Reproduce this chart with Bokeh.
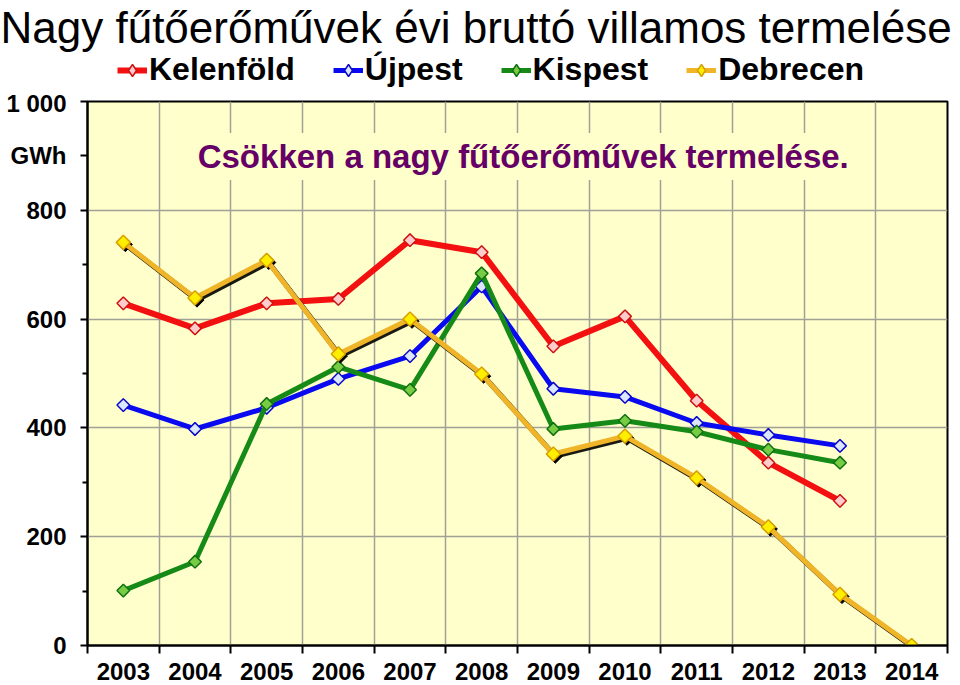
from bokeh.plotting import figure
from bokeh.layouts import column
from bokeh.models import (Range1d, FixedTicker, Legend, LegendItem, Label, ColumnDataSource)
from bokeh.transform import dodge
from bokeh.embed import file_html
from bokeh.resources import INLINE
import numpy as np

years = [2003, 2004, 2005, 2006, 2007, 2008, 2009, 2010, 2011, 2012, 2013, 2014]
kelenfold = [629, 583, 629, 637, 745, 723, 550, 605, 450, 336, 266]
ujpest = [442, 398, 437, 490, 532, 660, 472, 457, 409, 387, 367]
kispest = [101, 154, 444, 512, 470, 684, 398, 413, 393, 360, 336]
debrecen = [741, 639, 708, 536, 600, 499, 352, 385, 308, 218, 94, 0]

title_text = "Nagy fűtőerőművek évi bruttó villamos termelése"
note_text = "Csökken a nagy fűtőerőművek termelése."

FONT = "Liberation Sans"

series = [
    ("Kelenföld", kelenfold, "#F21010", "#FFCCCC", "#D01010", 6),
    ("Újpest", ujpest, "#0A0AF0", "#DDE6FF", "#0A0AC8", 5),
    ("Kispest", kispest, "#168A16", "#77CC44", "#117011", 5),
    ("Debrecen", debrecen, "#F0B428", "#FFEE00", "#D8A000", 5),
]

# ---------- header: title + legend ----------
h = figure(width=960, height=89, output_backend="svg", toolbar_location=None,
           x_range=Range1d(0, 1), y_range=Range1d(0, 1),
           x_axis_type=None, y_axis_type=None,
           min_border_left=87, min_border_right=13,
           min_border_top=0, min_border_bottom=0)
h.outline_line_color = None
h.grid.visible = False
h.background_fill_color = "white"
h.border_fill_color = "white"

h.title.text = title_text
h.title.text_font = FONT
h.title.text_font_size = "44px"
h.title.text_font_style = "normal"
h.title.text_color = "black"
h.title.align = "left"
h.title.offset = -87
h.title.standoff = 0

items = []
for name, vals, lc, fc, oc, lw in series:
    # legend-only renderers, kept outside the visible header range
    e = ColumnDataSource(dict(x=[-10.0, -9.0], y=[-10.0, -10.0]))
    r1 = h.line("x", "y", source=e, line_color=lc, line_width=lw)
    r2 = h.scatter("x", "y", source=e, marker="diamond", size=15,
                   fill_color=fc, line_color=oc, line_width=1.5)
    items.append(LegendItem(label=name, renderers=[r1, r2]))

legend = Legend(items=items, orientation="horizontal", location=(30, 1),
                label_text_font=FONT, label_text_font_size="32px",
                label_text_font_style="bold", label_text_color="black",
                glyph_width=30, glyph_height=30, label_standoff=2, spacing=38,
                padding=0, margin=0, border_line_color=None,
                background_fill_alpha=0)
h.add_layout(legend)

# ---------- main chart ----------
p = figure(frame_width=860, frame_height=544, output_backend="svg", toolbar_location=None,
           x_range=Range1d(2002.5, 2014.5), y_range=Range1d(0, 1000),
           min_border_left=87, min_border_right=13, min_border_bottom=40,
           min_border_top=12)

p.background_fill_color = "#FFFFCC"
p.border_fill_color = "white"
p.outline_line_color = "black"
p.outline_line_width = 2

bounds = [y + 0.5 for y in years[:-1]]
p.xaxis.ticker = FixedTicker(ticks=years, minor_ticks=[2002.5] + bounds + [2014.5])
p.xaxis.major_label_overrides = {y: str(y) for y in years}
p.xaxis.major_tick_line_color = None
p.xaxis.minor_tick_in = 0
p.xaxis.minor_tick_out = 8
p.xaxis.minor_tick_line_color = "black"
p.xaxis.minor_tick_line_width = 2
p.xaxis.axis_line_width = 2
p.xaxis.major_label_text_font = FONT
p.xaxis.major_label_text_font_size = "24px"
p.xaxis.major_label_text_font_style = "bold"
p.xaxis.major_label_text_color = "black"
p.xaxis.major_label_standoff = 9

p.yaxis.ticker = FixedTicker(ticks=[0, 200, 400, 600, 800, 900, 1000], minor_ticks=[100, 300, 500, 700])
p.yaxis.major_label_overrides = {0: "0", 200: "200", 400: "400", 600: "600", 800: "800",
                                 900: "GWh", 1000: "1 000"}
p.yaxis.major_tick_in = 0
p.yaxis.major_tick_out = 7
p.yaxis.major_tick_line_width = 2
p.yaxis.minor_tick_in = 0
p.yaxis.minor_tick_out = 5
p.yaxis.minor_tick_line_width = 2
p.yaxis.minor_tick_line_color = "black"
p.yaxis.axis_line_width = 2
p.yaxis.major_label_text_font = FONT
p.yaxis.major_label_text_font_size = "24px"
p.yaxis.major_label_text_font_style = "bold"
p.yaxis.major_label_text_color = "black"
p.yaxis.major_label_standoff = 14

p.xgrid.ticker = FixedTicker(ticks=bounds)
p.ygrid.ticker = FixedTicker(ticks=[200, 400, 600, 800])
p.xgrid.grid_line_color = "#A0A096"
p.ygrid.grid_line_color = "#A0A096"
p.xgrid.grid_line_width = 1.5
p.ygrid.grid_line_width = 1.5

note = Label(x=2008.58, y=899, text=note_text, text_align="center", text_baseline="middle",
             text_font=FONT, text_font_size="33px", text_font_style="bold",
             text_color="#660066", background_fill_color="#FFFFCC",
             padding=5)
p.add_layout(note)

for name, vals, lc, fc, oc, lw in series:
    src = ColumnDataSource(dict(x=years[:len(vals)], y=vals))
    if name == "Debrecen":
        p.line(x=dodge("x", 0.028), y=dodge("y", -4), source=src, line_color="black",
               line_width=5, line_alpha=0.9)
        p.scatter(x=dodge("x", 0.028), y=dodge("y", -4), source=src, marker="square",
                  angle=np.pi / 4, size=10, fill_color="black", line_color="black")
    p.line("x", "y", source=src, line_color=lc, line_width=lw)
    p.scatter("x", "y", source=src, marker="square", angle=np.pi / 4,
              size=10 if name == "Debrecen" else 9,
              fill_color=fc, line_color=oc, line_width=1.5)

layout = column(h, p, spacing=0)
open("out.html", "w").write(file_html(layout, INLINE))
